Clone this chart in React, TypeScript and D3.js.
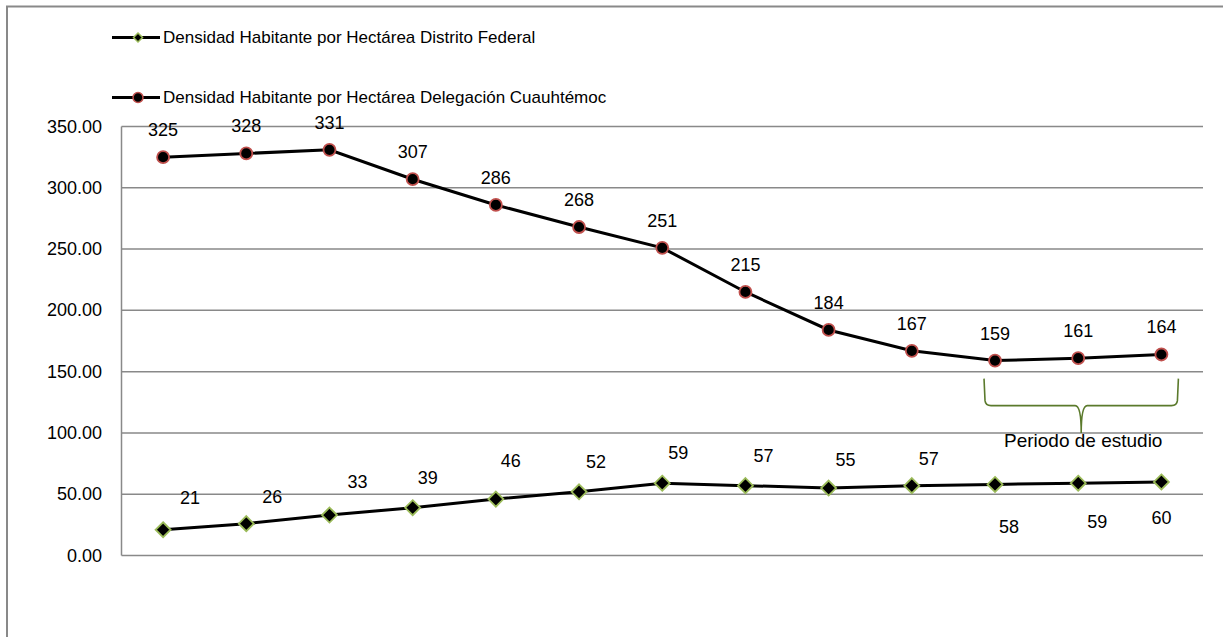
import React from 'react'
import * as d3 from 'd3'

// 13 periodos (sin etiquetas en el eje)
const periodos = ['p1', 'p2', 'p3', 'p4', 'p5', 'p6', 'p7', 'p8', 'p9', 'p10', 'p11', 'p12', 'p13']
const cuauhtemoc = [325, 328, 331, 307, 286, 268, 251, 215, 184, 167, 159, 161, 164]
const distritoFederal = [21, 26, 33, 39, 46, 52, 59, 57, 55, 57, 58, 59, 60]
const yTicks = [0, 50, 100, 150, 200, 250, 300, 350]

// desplazamiento manual de las etiquetas del DF (como en la hoja original)
const dfLabelDx = [27, 26, 28, 15, 15, 17, 16, 18, 17, 17, 14, 19, 0]
const dfLabelDy = [-32, -27, -33, -30, -38, -30, -30, -30, -28, -27, 43, 39, 36]

const W = 1223
const H = 637
const FONT = '"Liberation Sans", Arial, sans-serif'
const GRID = '#898989'
const RED = '#c0504d'
const GREEN = '#9bbb59'
const BRACE = '#5b7a2c'

export default function App() {
  const x = d3.scaleBand<string>().domain(periodos).range([121.5, 1203])
  const y = d3.scaleLinear().domain([0, 350]).range([555.5, 126.5])
  const cx = (i: number) => (x(periodos[i]) ?? 0) + x.bandwidth() / 2

  const line = d3
    .line<number>()
    .x((_, i) => cx(i))
    .y((d) => y(d))

  const diamond = (r: number) => `M0,${-r}L${r},0L0,${r}L${-r},0Z`

  // llave "Periodo de estudio"
  const bx0 = cx(10) - 11
  const bx1 = cx(12) + 17
  const bmid = (bx0 + bx1) / 2
  const bTop = y(150) + 7
  const bBar = bTop + 27
  const bTip = y(100)
  const brace = [
    `M${bx0},${bTop}`,
    `L${bx0 + 1},${bBar - 5}`,
    `Q${bx0 + 1.5},${bBar} ${bx0 + 7},${bBar}`,
    `L${bmid - 6},${bBar}`,
    `Q${bmid},${bBar} ${bmid},${bTip}`,
    `Q${bmid},${bBar} ${bmid + 6},${bBar}`,
    `L${bx1 - 7},${bBar}`,
    `Q${bx1 - 1.5},${bBar} ${bx1 - 1},${bBar - 5}`,
    `L${bx1},${bTop}`,
  ].join(' ')

  return (
    <svg width={W} height={H} style={{ position: 'absolute', left: 0, top: 0, background: '#fff' }} fontFamily={FONT}>
      <rect x={7} y={6.5} width={W + 20} height={H + 20} fill="#fff" stroke={GRID} strokeWidth={2} />

      {/* leyenda */}
      <g>
        <line x1={112} x2={160} y1={37.5} y2={37.5} stroke="#000" strokeWidth={3} />
        <path d={diamond(4.5)} transform="translate(138,37.5)" fill="#000" stroke={GREEN} strokeWidth={1.5} />
        <text x={163} y={37.5} fontSize={17} dominantBaseline="central" fill="#000">
          Densidad Habitante por Hectárea Distrito Federal
        </text>
        <line x1={112} x2={160} y1={97.5} y2={97.5} stroke="#000" strokeWidth={3} />
        <circle cx={138} cy={97.5} r={5} fill="#000" stroke={RED} strokeWidth={1.5} />
        <text x={163} y={97.5} fontSize={17} dominantBaseline="central" fill="#000">
          Densidad Habitante por Hectárea Delegación Cuauhtémoc
        </text>
      </g>

      {/* rejilla y ejes */}
      {yTicks.map((t) => (
        <g key={t}>
          <line x1={121.5} x2={1203} y1={y(t)} y2={y(t)} stroke={GRID} strokeWidth={1.5} />
          <text x={102} y={y(t)} fontSize={18} textAnchor="end" dominantBaseline="central" fill="#000">
            {t.toFixed(2)}
          </text>
        </g>
      ))}
      <line x1={121.5} x2={121.5} y1={y(350)} y2={y(0)} stroke={GRID} strokeWidth={1.5} />

      {/* series */}
      <path d={line(cuauhtemoc) ?? ''} fill="none" stroke="#000" strokeWidth={3} />
      <path d={line(distritoFederal) ?? ''} fill="none" stroke="#000" strokeWidth={3} />

      {cuauhtemoc.map((v, i) => (
        <g key={`c-${i}`}>
          <circle cx={cx(i)} cy={y(v)} r={6} fill="#000" stroke={RED} strokeWidth={1.8} />
          <text x={cx(i)} y={y(v) - 27} fontSize={18} textAnchor="middle" dominantBaseline="central" fill="#000">
            {v}
          </text>
        </g>
      ))}
      {distritoFederal.map((v, i) => (
        <g key={`d-${i}`}>
          <path d={diamond(7.5)} transform={`translate(${cx(i)},${y(v)})`} fill="#000" stroke={GREEN} strokeWidth={1.8} />
          <text
            x={cx(i) + dfLabelDx[i]}
            y={y(v) + dfLabelDy[i]}
            fontSize={18}
            textAnchor="middle"
            dominantBaseline="central"
            fill="#000"
          >
            {v}
          </text>
        </g>
      ))}

      {/* periodo de estudio */}
      <path d={brace} fill="none" stroke={BRACE} strokeWidth={1.6} />
      <text x={bmid + 2} y={bTip + 8} fontSize={19} textAnchor="middle" dominantBaseline="central" fill="#000">
        Periodo de estudio
      </text>
    </svg>
  )
}
